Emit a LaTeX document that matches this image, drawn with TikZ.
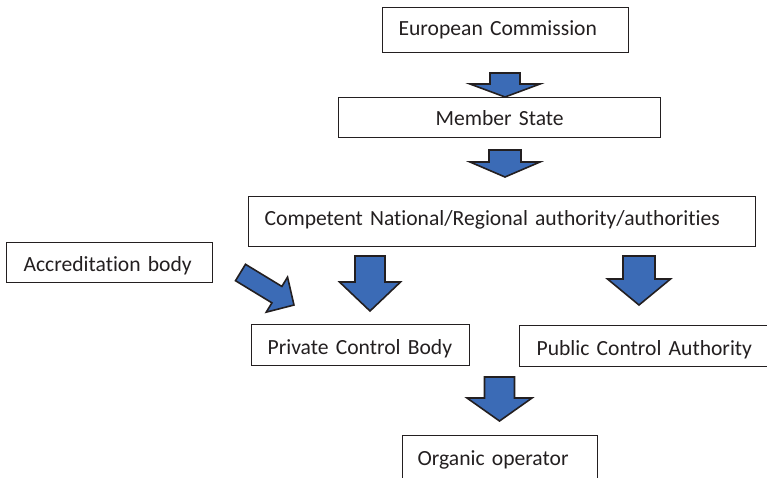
\documentclass[tikz,border=0pt]{standalone}
\usepackage{fontspec}
\setmainfont{Carlito}[Ligatures={NoCommon}]
\definecolor{arrowblue}{RGB}{59,107,182}
\definecolor{ink}{RGB}{35,31,32}
\newcommand{\BArrow}[7]{%
  \begin{scope}[shift={(#1,#2)},rotate=#3]
    \draw[blockarrow] (0,-#6) -- ({#4-#5},-#6) -- ({#4-#5},-#7) -- (#4,0)
      -- ({#4-#5},#7) -- ({#4-#5},#6) -- (0,#6) -- cycle;
  \end{scope}}
\begin{document}
\begin{tikzpicture}[x=1pt,y=-1pt,
  box/.style={draw=ink,line width=1.2pt,rectangle,inner ysep=0pt,anchor=north west,
    font=\fontsize{21.6}{24}\selectfont,text=ink},
  blockarrow/.style={fill=arrowblue,draw=ink,line width=1.6pt,line join=miter}]
\useasboundingbox (0,0) rectangle (767,477);
% boxes: text width = W - 2*pad
\node[box,inner xsep=16pt,text width=214pt,align=left,text height=28pt,text depth=17pt] (ec) at (382,7) {European Commission};
\node[box,inner xsep=0pt,text width=322pt,align=center,text height=28pt,text depth=12pt] (ms) at (338,97) {Member State};
\node[box,inner xsep=16pt,text width=475pt,align=left,text height=29pt,text depth=21pt] (cna) at (248,196) {Competent National/Regional authority/authorities};
\node[box,inner xsep=17pt,text width=172pt,align=left,text height=29pt,text depth=11pt] (acc) at (6,242) {Accreditation body};
\node[box,inner xsep=16pt,text width=186pt,align=left,text height=30pt,text depth=11pt] (pcb) at (251,324) {Private Control Body};
\node[box,inner xsep=17pt,text width=246pt,align=left,text height=30pt,text depth=11pt] (pca) at (519,325) {Public Control Authority};
\node[box,inner xsep=15pt,text width=165pt,align=left,text height=30pt,text depth=16pt] (org) at (402,435) {Organic operator};
% block arrows
\BArrow{505}{73}{-90}{24}{13}{15}{35}
\BArrow{505}{150}{-90}{27}{15}{16}{35}
\BArrow{370}{256}{-90}{55}{29}{15}{30.5}
\BArrow{639}{256}{-90}{49}{26}{16}{31.5}
\BArrow{499.5}{377}{-90}{44}{23}{15}{32.5}
\BArrow{240.5}{272.5}{-31.3}{62.6}{20}{9.6}{20.5}
\end{tikzpicture}
\end{document}
